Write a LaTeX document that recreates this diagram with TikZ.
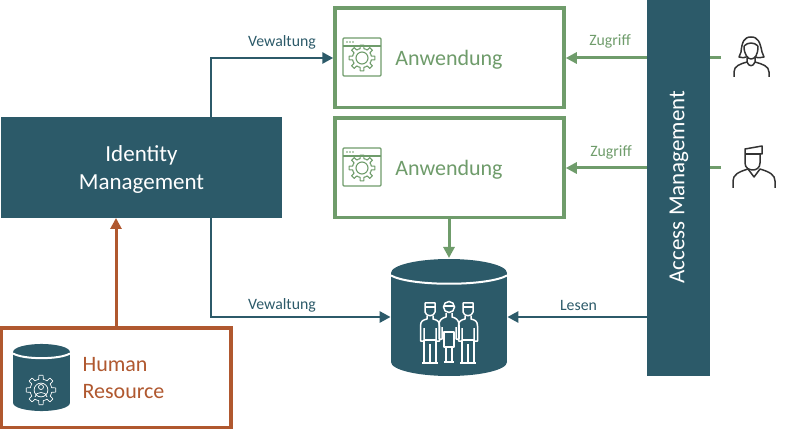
\documentclass[tikz,border=0pt]{standalone}
\usepackage{fontspec}
\setmainfont{Carlito}
\usetikzlibrary{positioning, arrows.meta}

\definecolor{idmteal}{HTML}{2C5A69}
\definecolor{appgreen}{HTML}{6F9C6B}
\definecolor{hrorange}{HTML}{B0582F}
\definecolor{userdark}{HTML}{333333}

\tikzset{
	appbox/.style={draw=appgreen, line width=3.5pt, fill=white, minimum width=229pt, minimum height=99.5pt},
	tealbox/.style={fill=idmteal, text=white, align=center, font=\fontsize{23}{28}\selectfont},
	applabel/.style={text=appgreen, font=\fontsize{22}{27}\selectfont},
	conlabel/.style={font=\fontsize{15.8}{18}\selectfont},
	teal arrow/.style={->, idmteal, line width=2.8pt},
	green arrow/.style={->, appgreen, line width=3pt},
	user line/.style={userdark, line width=1.5pt, line join=round},
	gearicon/.pic={
		\foreach \a in {0,45,...,315} {
			\draw[line join=round] (\a-22.5:9.5) -- (\a-12:9.5) -- (\a-8:13) -- (\a+8:13) -- (\a+12:9.5) -- (\a+22.5:9.5);
		}
		\draw (0,0) circle (6);
	},
	winicon/.pic={
		\draw[rounded corners=1pt] (-19,-19) rectangle (19,19);
		\draw (-19,-11) -- (19,-11);
		\foreach \x in {-15,-12,-9} \fill (\x,-15) circle (0.8);
		\pic at (0,1) {gearicon};
	},
	drum/.pic={
		\fill (0,-44.5) ellipse (58 and 14);
		\fill (0,44.5) ellipse (58 and 14);
		\fill (-58,-44.5) rectangle (58,44.5);
		\draw[white, line width=2pt] (-58,-42) .. controls (-38,-31) and (38,-31) .. (58,-42);
	},
	personfig/.pic={
		\draw[line join=round] (-5,1) -- (5,1) -- (5,10) .. controls (4,15) and (-4,15) .. (-5,10) -- cycle;
		\draw (-5,5) -- (5,5);
		\draw[line join=round] (-3,14) -- (-3,17) .. controls (-7,18) and (-9.5,19) .. (-9.5,24) -- (-9.5,39) -- (-6,39) -- (-6,26);
		\draw[line join=round] (3,14) -- (3,17) .. controls (7,18) and (9.5,19) .. (9.5,24) -- (9.5,39) -- (6,39) -- (6,26);
		\draw (-6,38) -- (-6,61) (6,38) -- (6,61) (0,42) -- (0,61);
		\draw (-6,38) -- (6,38);
		\draw (-8,61) -- (8,61);
	},
	midfig/.pic={
		\draw (0,6) circle (5.5);
		\draw (-5,5) -- (5,5);
		\draw[line join=round] (-3,12) -- (-3,16) .. controls (-7,17) and (-10,19) .. (-10,24) -- (-10,38) -- (-7,38) -- (-7,26);
		\draw[line join=round] (3,12) -- (3,16) .. controls (7,17) and (10,19) .. (10,24) -- (10,38) -- (7,38) -- (7,26);
		\draw[line join=round] (-5,31) -- (5,31) -- (5,46) -- (-5,46) -- cycle;
		\draw (-3,46) -- (-3,61) (3,46) -- (3,61) (-5,61) -- (5,61);
	}
}

\begin{document}
\begin{tikzpicture}[x=1pt, y=-1pt, >={Triangle[length=11pt, width=11pt]}, node distance=110pt, on grid, thick]
	\useasboundingbox (0,0) rectangle (787,430);

	\node[appbox]							(A1) at (449.5,57.75)	{};
	\node[appbox]							(A2) [below of=A1] 	{};
	\node[tealbox, minimum width=281pt, minimum height=101pt]	(IDM) at (141.5,167.5)	{};
	\node[text=white, align=center, font=\fontsize{23}{28}\selectfont]	(IDMtext) at (141.5,169.5)	{Identity\\Management};
	\node[draw=hrorange, line width=3.5pt, fill=white, minimum width=229.5pt, minimum height=99.5pt]	(HR) at (116.25,377.75)	{};
	\node[minimum width=116pt, minimum height=117pt, inner sep=0pt]	(DB) at (449,317.5)	{};

	% Hilfspunkte
	\coordinate (U1) at (721,58);
	\coordinate (U2) at (721,168);
	\coordinate (AMdb) at (648,317);
	\coordinate (IDMtop) at (211,117);
	\coordinate (IDMbot) at (211,218);
	\coordinate (HRtop) at (116,327);
	\coordinate (IDMhr) at (116,218);
	\coordinate (DBtop) at (449,258);

	% Verbindungen
	\draw[teal arrow] (IDMtop) |- (A1.west |- U1);
	\draw[teal arrow] (IDMbot) |- (DB.west |- AMdb);
	\draw[->, hrorange, line width=3pt] (HRtop) -- (IDMhr);
	\draw[green arrow] (A2.south -| DBtop) -- (DBtop);
	\draw[green arrow] (U1) -- (A1.east |- U1);
	\draw[green arrow] (U2) -- (A2.east |- U2);
	\draw[teal arrow] (AMdb) -- (DB.east |- AMdb);

	\node[tealbox, minimum width=63pt, minimum height=376pt]	(AM) at (678.5,188)	{};
	\node[text=white, rotate=90, font=\fontsize{23}{28}\selectfont]	(AMtext) at (679,187)	{Access Management};

	% Beschriftungen
	\node[applabel]							(T1) at (449,59.5)	{Anwendung};
	\node[applabel]							(T2) at (449,169.5)	{Anwendung};
	\node[text=hrorange, align=left, font=\fontsize{22}{27}\selectfont]	(T3) at (123.5,378)	{Human\\Resource};
	\node[conlabel, text=idmteal]			(L1) at (282,42)	{Vewaltung};
	\node[conlabel, text=idmteal]			(L2) at (282,305)	{Vewaltung};
	\node[conlabel, text=appgreen]			(L3) at (610,41)	{Zugriff};
	\node[conlabel, text=appgreen]			(L4) at (611,152)	{Zugriff};
	\node[conlabel, text=idmteal]			(L5) at (578.5,305)	{Lesen};

	% Symbole
	\pic[color=appgreen, line width=1.1pt] at (362,57) {winicon};
	\pic[color=appgreen, line width=1.1pt] at (362,167) {winicon};

	\pic[color=idmteal] at (DB.center) {drum};
	\pic[color=white, line width=1.5pt] at (430,302) {personfig};
	\pic[color=white, line width=1.5pt] at (468,302) {personfig};
	\pic[color=white, line width=1.5pt] at (449,301) {midfig};

	\node[minimum width=57pt, minimum height=67pt, inner sep=0pt]	(HRdb) at (41.5,377.5)	{};
	\pic[color=idmteal, xscale=.49, yscale=.573] at (HRdb.center) {drum};
	\pic[color=white, line width=0.7pt, scale=1.15] at (41,390) {gearicon};
	\draw[white, line width=0.7pt] (41,387) circle (2.5) (35,397) .. controls (35,391) and (47,391) .. (47,397);

	% Benutzer
	\draw[user line] (741,52) .. controls (742,42) and (744,37) .. (751,37) .. controls (758,37) and (760,42) .. (762,52) -- (764,57) .. controls (761,58) and (757,58) .. (756,57);
	\draw[user line] (741,52) -- (739,57) .. controls (742,58) and (745,58) .. (746,57);
	\draw[user line] (744,46) .. controls (748,42) and (754,42) .. (758,46);
	\draw[user line] (744,46) .. controls (744,55) and (748,59) .. (751,59) .. controls (755,59) and (758,55) .. (758,46);
	\draw[user line] (734,77) -- (734,72) .. controls (734,66) and (740,64) .. (747,62) -- (747,57);
	\draw[user line] (769,77) -- (769,72) .. controls (769,66) and (762,64) .. (755,62) -- (755,57);
	\draw[user line] (747,62) .. controls (749,67) and (753,67) .. (755,62);

	\draw[user line] (745,163) -- (745,149) -- (762,146) -- (762,154) -- (760,154) -- (760,163) .. controls (760,168) and (756,170) .. (753,170) .. controls (749,170) and (745,168) .. (745,163) -- cycle;
	\draw[user line] (745,154) -- (760,154);
	\draw[user line] (733,188) -- (733,181) .. controls (733,175) and (738,172) .. (748,169) -- (754,177) -- (760,169) .. controls (770,172) and (775,175) .. (775,181) -- (775,188);
\end{tikzpicture}
\end{document}
